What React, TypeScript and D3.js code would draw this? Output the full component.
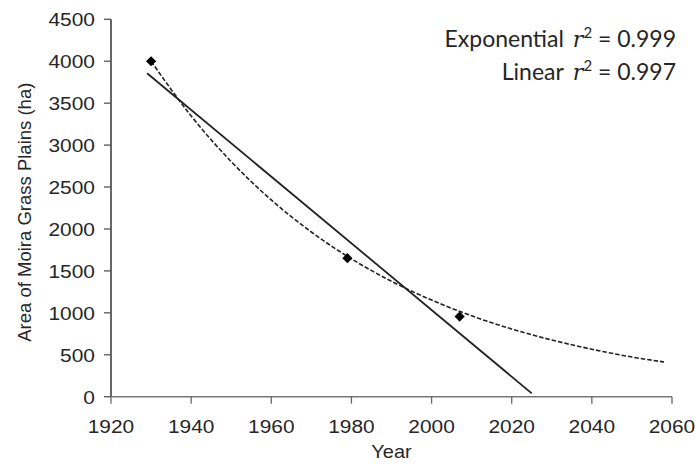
import React from "react";
import * as d3 from "d3";

// Observed data
const years = [1930, 1979, 2007];
const areas = [4000, 1652, 955];

// Exponential trendline
const expYears = [1930, 1940, 1950, 1960, 1970, 1980, 1990, 2000, 2010, 2020, 2030, 2040, 2050, 2058];
const expValues = [4000, 3348, 2803, 2346, 1964, 1644, 1376, 1152, 964, 807, 676, 566, 473, 414];

// Linear trendline end points
const linYears = [1929, 2025];
const linValues = [3857, 40];

const xTicks = [1920, 1940, 1960, 1980, 2000, 2020, 2040, 2060];
const yTicks = [0, 500, 1000, 1500, 2000, 2500, 3000, 3500, 4000, 4500];

const legendNames = ["Exponential", "Linear"];
const legendR2 = ["0.999", "0.997"];

const W = 695;
const H = 464;

export default function App() {
  const x = d3.scaleLinear().domain([1920, 2060]).range([111, 672]);
  const y = d3.scaleLinear().domain([0, 4500]).range([396.7, 19.3]);

  const expLine = d3
    .line<number>()
    .x((_, i) => x(expYears[i]))
    .y((v) => y(v))
    .curve(d3.curveMonotoneX)(expValues);

  const linLine = d3
    .line<number>()
    .x((_, i) => x(linYears[i]))
    .y((v) => y(v))(linValues);

  const marker = d3.symbol().type(d3.symbolSquare).size(52)();

  const font = "'Liberation Sans', Arial, sans-serif";
  const legendFont = "Lato, 'Open Sans', sans-serif";

  return (
    <svg
      width={W}
      height={H}
      viewBox={`0 0 ${W} ${H}`}
      style={{ position: "absolute", left: 0, top: 0, background: "#fff" }}
    >
      {/* Y axis */}
      <line x1={x(1920)} x2={x(1920)} y1={y(4500)} y2={y(0)} stroke="#333" strokeWidth={1.5} />
      {yTicks.map((t) => (
        <g key={"yt" + t}>
          <line x1={x(1920) - 7} x2={x(1920)} y1={y(t)} y2={y(t)} stroke="#555" strokeWidth={1.3} />
          <text
            x={x(1920) - 16}
            y={y(t)}
            dy="0.36em"
            textAnchor="end"
            fontFamily={font}
            fontSize={19}
            fill="#262626"
            transform={`translate(${x(1920) - 16},0) scale(1.1,1) translate(${-(x(1920) - 16)},0)`}
          >
            {t}
          </text>
        </g>
      ))}

      {/* X axis */}
      <line x1={x(1920)} x2={x(2060)} y1={y(0)} y2={y(0)} stroke="#777" strokeWidth={1.5} />
      {xTicks.map((t) => (
        <g key={"xt" + t}>
          <line x1={x(t)} x2={x(t)} y1={y(0)} y2={y(0) + 7} stroke="#666" strokeWidth={1.3} />
          <text
            x={x(t)}
            y={433}
            textAnchor="middle"
            fontFamily={font}
            fontSize={19}
            fill="#262626"
            transform={`translate(${x(t)},0) scale(1.1,1) translate(${-x(t)},0)`}
          >
            {t}
          </text>
        </g>
      ))}

      {/* Axis titles */}
      <text
        x={391.5}
        y={458}
        textAnchor="middle"
        fontFamily={font}
        fontSize={19}
        fill="#262626"
        transform={`translate(391.5,0) scale(1.05,1) translate(-391.5,0)`}
      >
        Year
      </text>
      <text
        transform={`translate(31,${y(2200)}) rotate(-90)`}
        textAnchor="middle"
        fontFamily={font}
        fontSize={18.5}
        fill="#262626"
      >
        Area of Moira Grass Plains (ha)
      </text>

      {/* Trendlines */}
      <path d={expLine ?? ""} fill="none" stroke="#222" strokeWidth={1.6} strokeDasharray="4.5,2" />
      <path d={linLine ?? ""} fill="none" stroke="#222" strokeWidth={1.8} />

      {/* Data points */}
      {years.map((yr, i) => (
        <path
          key={"pt" + yr}
          d={marker ?? ""}
          transform={`translate(${x(yr)},${y(areas[i])}) rotate(45)`}
          fill="#000"
        />
      ))}

      {/* Legend text */}
      {legendNames.map((name, i) => (
        <text
          key={name}
          x={676}
          y={47 + i * 33}
          textAnchor="end"
          fontFamily={legendFont}
          fontSize={23}
          fill="#262626"
        >
          {name}
          <tspan dx={9} fontFamily="'DejaVu Serif', 'Liberation Serif', serif" fontStyle="italic" fontSize={22}>
            r
          </tspan>
          <tspan dy={-9} fontSize={15}>
            2
          </tspan>
          <tspan dy={9}>{" = " + legendR2[i]}</tspan>
        </text>
      ))}
    </svg>
  );
}
